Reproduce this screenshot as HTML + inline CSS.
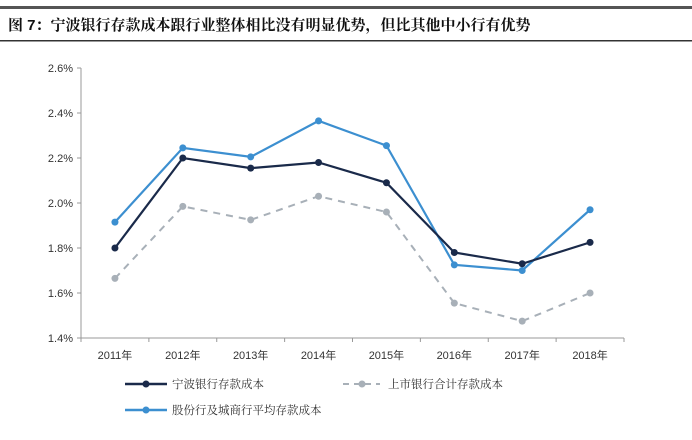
<!DOCTYPE html>
<html><head><meta charset="utf-8"><style>
body{margin:0;width:692px;height:435px;background:#fff;overflow:hidden;font-family:"Liberation Sans","Noto Sans CJK SC",sans-serif}
</style></head><body>
<svg width="692" height="435">
<rect x="0" y="6" width="692" height="3" fill="#555"/>
<text x="8" y="30" font-size="15" font-weight="bold" fill="#111" font-family="'Liberation Sans','Noto Serif CJK SC',serif">图 7：宁波银行存款成本跟行业整体相比没有明显优势，但比其他中小行有优势</text>
<rect x="0" y="40" width="692" height="1.5" fill="#333"/>
<g id="axes"></g><g id="series"></g>
<g font-size="11.5" fill="#333" font-family="'Liberation Sans','Noto Serif CJK SC',sans-serif">
<line x1="125" y1="384" x2="167" y2="384" stroke="#1a2a4a" stroke-width="2.5"/><circle cx="146" cy="384" r="3.5" fill="#1a2a4a"/>
<text x="172" y="388">宁波银行存款成本</text>
<line x1="343" y1="384" x2="380" y2="384" stroke="#a8b0b8" stroke-width="2" stroke-dasharray="6,5"/><circle cx="362" cy="384" r="3.5" fill="#a8b0b8"/>
<text x="388" y="388">上市银行合计存款成本</text>
<line x1="125" y1="410" x2="167" y2="410" stroke="#3c8fd0" stroke-width="2.5"/><circle cx="146" cy="410" r="3.5" fill="#3c8fd0"/>
<text x="172" y="414">股份行及城商行平均存款成本</text>
</g>
</svg>
<script>
const years=["2011年","2012年","2013年","2014年","2015年","2016年","2017年","2018年"];
const yTicks=[1.4,1.6,1.8,2.0,2.2,2.4,2.6];
const ningbo=[1.80,2.20,2.155,2.18,2.09,1.78,1.73,1.825];
const listed=[1.665,1.985,1.925,2.03,1.96,1.555,1.475,1.60];
const joint=[1.915,2.245,2.205,2.365,2.255,1.725,1.70,1.97];
const NS="http://www.w3.org/2000/svg";
const x0=81,x1=624,yTop=68,yBot=338;
const bw=(x1-x0)/years.length;
const X=i=>x0+bw*(i+0.5);
const Y=v=>yBot-(v-1.4)/(1.2)*(yBot-yTop);
function mk(t,a,p){const e=document.createElementNS(NS,t);for(const k in a)e.setAttribute(k,a[k]);p.appendChild(e);return e;}
const ax=document.getElementById('axes');
const yl=mk('line',{x1:x0,y1:yTop,x2:x0,y2:yBot,stroke:'#999'},ax);


const xl=mk('line',{x1:x0,y1:yBot,x2:x1,y2:yBot,stroke:'#999'},ax);


yTicks.forEach(v=>{
 mk('line',{x1:x0-4,y1:Y(v),x2:x0,y2:Y(v),stroke:'#999'},ax);
 const t=mk('text',{x:x0-8,y:Y(v)+4,'text-anchor':'end','font-size':11,fill:'#333'},ax);
 t.textContent=v.toFixed(1)+'%';
 
 
});
for(let i=0;i<=years.length;i++)mk('line',{x1:x0+bw*i,y1:yBot,x2:x0+bw*i,y2:yBot+4,stroke:'#999'},ax);
years.forEach((y,i)=>{
 const t=mk('text',{x:X(i),y:yBot+21,'text-anchor':'middle','font-size':11,fill:'#333'},ax);
 t.textContent=y;
 
 
});
const sg=document.getElementById('series');
function draw(d,c,w,dash,name){
 const p=mk('polyline',{points:d.map((v,i)=>X(i)+','+Y(v)).join(' '),fill:'none',stroke:c,'stroke-width':w},sg);
 if(dash)p.setAttribute('stroke-dasharray',dash);
 
 
 d.forEach((v,i)=>{const c2=mk('circle',{cx:X(i),cy:Y(v),r:3.5,fill:c},sg);
  
  });
}
draw(listed,'#a8b0b8',2,'7,6','listed');
draw(joint,'#3c8fd0',2.2,null,'joint');
draw(ningbo,'#1a2a4a',2.2,null,'ningbo');
</script>
</body></html>
